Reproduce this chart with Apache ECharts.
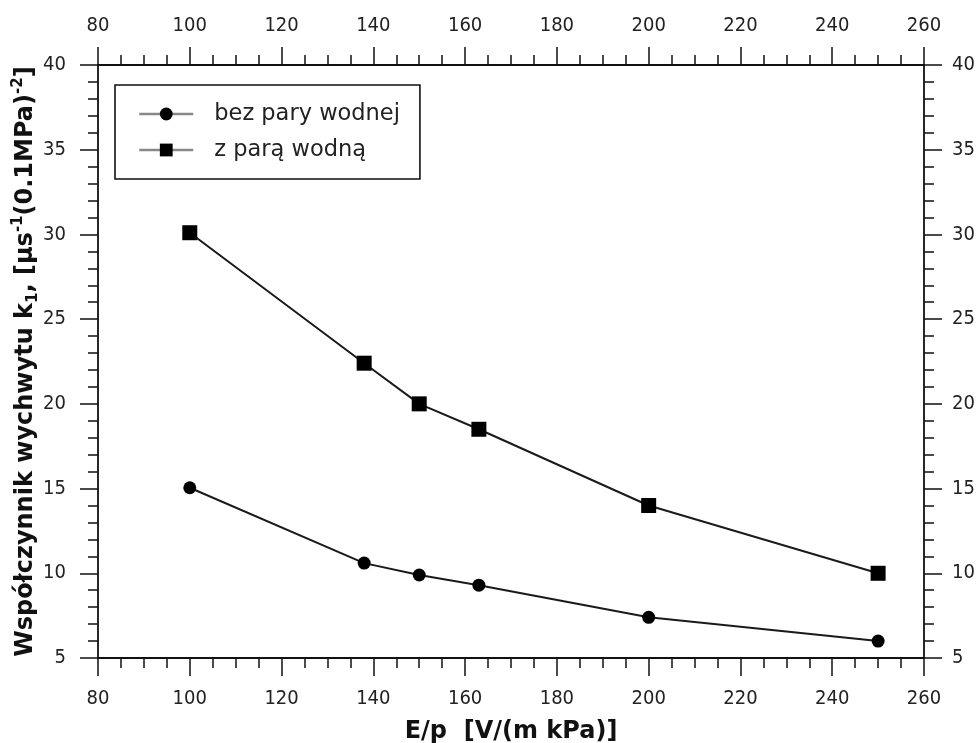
<!DOCTYPE html>
<html>
<head>
<meta charset="utf-8">
<script src="https://cdn.jsdelivr.net/npm/echarts@6/dist/echarts.min.js"></script>
<style>
  html, body { margin: 0; padding: 0; background: #fff; }
  #chart { width: 979px; height: 743px; }
</style>
</head>
<body>
<div id="chart"></div>
<script>
// ---- data ----
const xValues = [100, 138, 150, 163, 200, 250];
const bezPary = [15.05, 10.6, 9.9, 9.3, 7.4, 6.0];
const zPara = [30.1, 22.4, 20.0, 18.5, 14.0, 10.0];
const seriesNames = ['bez pary wodnej', 'z parą wodną'];
const xAxisRange = { min: 80, max: 260, interval: 20 };
const yAxisRange = { min: 5, max: 40, interval: 5 };
const xTitle = 'E/p  [V/(m kPa)]';

const tickFont = 'DejaVu Sans Condensed, DejaVu Sans, sans-serif';
const titleFont = 'DejaVu Sans, sans-serif';
const ink = '#111';

function pairs(ys) { return xValues.map((x, i) => [x, ys[i]]); }

function xAxisCfg(pos, withName) {
  return {
    type: 'value', position: pos,
    min: xAxisRange.min, max: xAxisRange.max, interval: xAxisRange.interval,
    axisLine: { show: true, onZero: false, lineStyle: { color: ink, width: 1.8 } },
    axisTick: { show: true, length: 18, lineStyle: { color: ink, width: 1.5 } },
    minorTick: { show: true, splitNumber: 4, length: 10, lineStyle: { color: ink, width: 1.5 } },
    splitLine: { show: false },
    axisLabel: { margin: pos === 'bottom' ? 31 : 29, fontFamily: tickFont, fontSize: 20, color: '#222' },
    name: withName ? xTitle : '',
    nameLocation: 'middle', nameGap: 62, nameMoveOverlap: false,
    nameTextStyle: { fontFamily: titleFont, fontWeight: 'bold', fontSize: 24, color: ink }
  };
}
function yAxisCfg(pos, withName) {
  return {
    type: 'value', position: pos,
    min: yAxisRange.min, max: yAxisRange.max, interval: yAxisRange.interval,
    axisLine: { show: true, onZero: false, lineStyle: { color: ink, width: 1.8 } },
    axisTick: { show: true, length: 18, lineStyle: { color: ink, width: 1.5 } },
    minorTick: { show: true, splitNumber: 5, length: 10, lineStyle: { color: ink, width: 1.5 } },
    splitLine: { show: false },
    axisLabel: { margin: pos === 'left' ? 32 : 28, fontFamily: tickFont, fontSize: 20, color: '#222' },
    name: withName ? '{a|Współczynnik wychwytu k}{sub|1}{a|, [μs}{sup|-1}{a|(0.1MPa)}{sup|-2}{a|]}' : '',
    nameLocation: 'middle', nameGap: 57, nameMoveOverlap: false,
    nameTextStyle: {
      fontFamily: titleFont, fontWeight: 'bold', fontSize: 24, color: ink,
      rich: {
        a: { fontFamily: titleFont, fontWeight: 'bold', fontSize: 24, color: ink, lineHeight: 30 },
        sub: { fontFamily: titleFont, fontWeight: 'bold', fontSize: 15, color: ink, lineHeight: 14, verticalAlign: 'bottom' },
        sup: { fontFamily: titleFont, fontWeight: 'bold', fontSize: 15, color: ink, lineHeight: 14, verticalAlign: 'top' }
      }
    }
  };
}

const chart = echarts.init(document.getElementById('chart'), null, { renderer: 'canvas' });
chart.setOption({
  backgroundColor: '#fff',
  animation: false,
  grid: { left: 98, right: 55, top: 65, bottom: 85, containLabel: false, outerBoundsMode: 'none' },
  legend: {
    orient: 'vertical', left: 115, top: 85,
    data: seriesNames,
    itemWidth: 54, itemHeight: 16, itemGap: 12,
    padding: [17, 20, 17, 23],
    borderColor: ink, borderWidth: 1.6,
    backgroundColor: '#fff',
    lineStyle: { color: '#888', width: 2.5 },
    itemStyle: { color: '#000' },
    textStyle: { fontFamily: titleFont, fontSize: 22.5, color: '#222', lineHeight: 24, padding: [0, 0, 0, 16] }
  },
  xAxis: [xAxisCfg('bottom', true), xAxisCfg('top', false)],
  yAxis: [yAxisCfg('left', true), yAxisCfg('right', false)],
  series: [
    {
      name: seriesNames[0], type: 'line', xAxisIndex: 0, yAxisIndex: 0,
      data: pairs(bezPary),
      symbol: 'circle', symbolSize: 13,
      lineStyle: { color: '#1a1a1a', width: 2 },
      itemStyle: { color: '#000' }
    },
    {
      name: seriesNames[1], type: 'line', xAxisIndex: 0, yAxisIndex: 0,
      data: pairs(zPara),
      symbol: 'rect', symbolSize: 15,
      lineStyle: { color: '#1a1a1a', width: 2 },
      itemStyle: { color: '#000' }
    }
  ]
});
</script>
</body>
</html>
